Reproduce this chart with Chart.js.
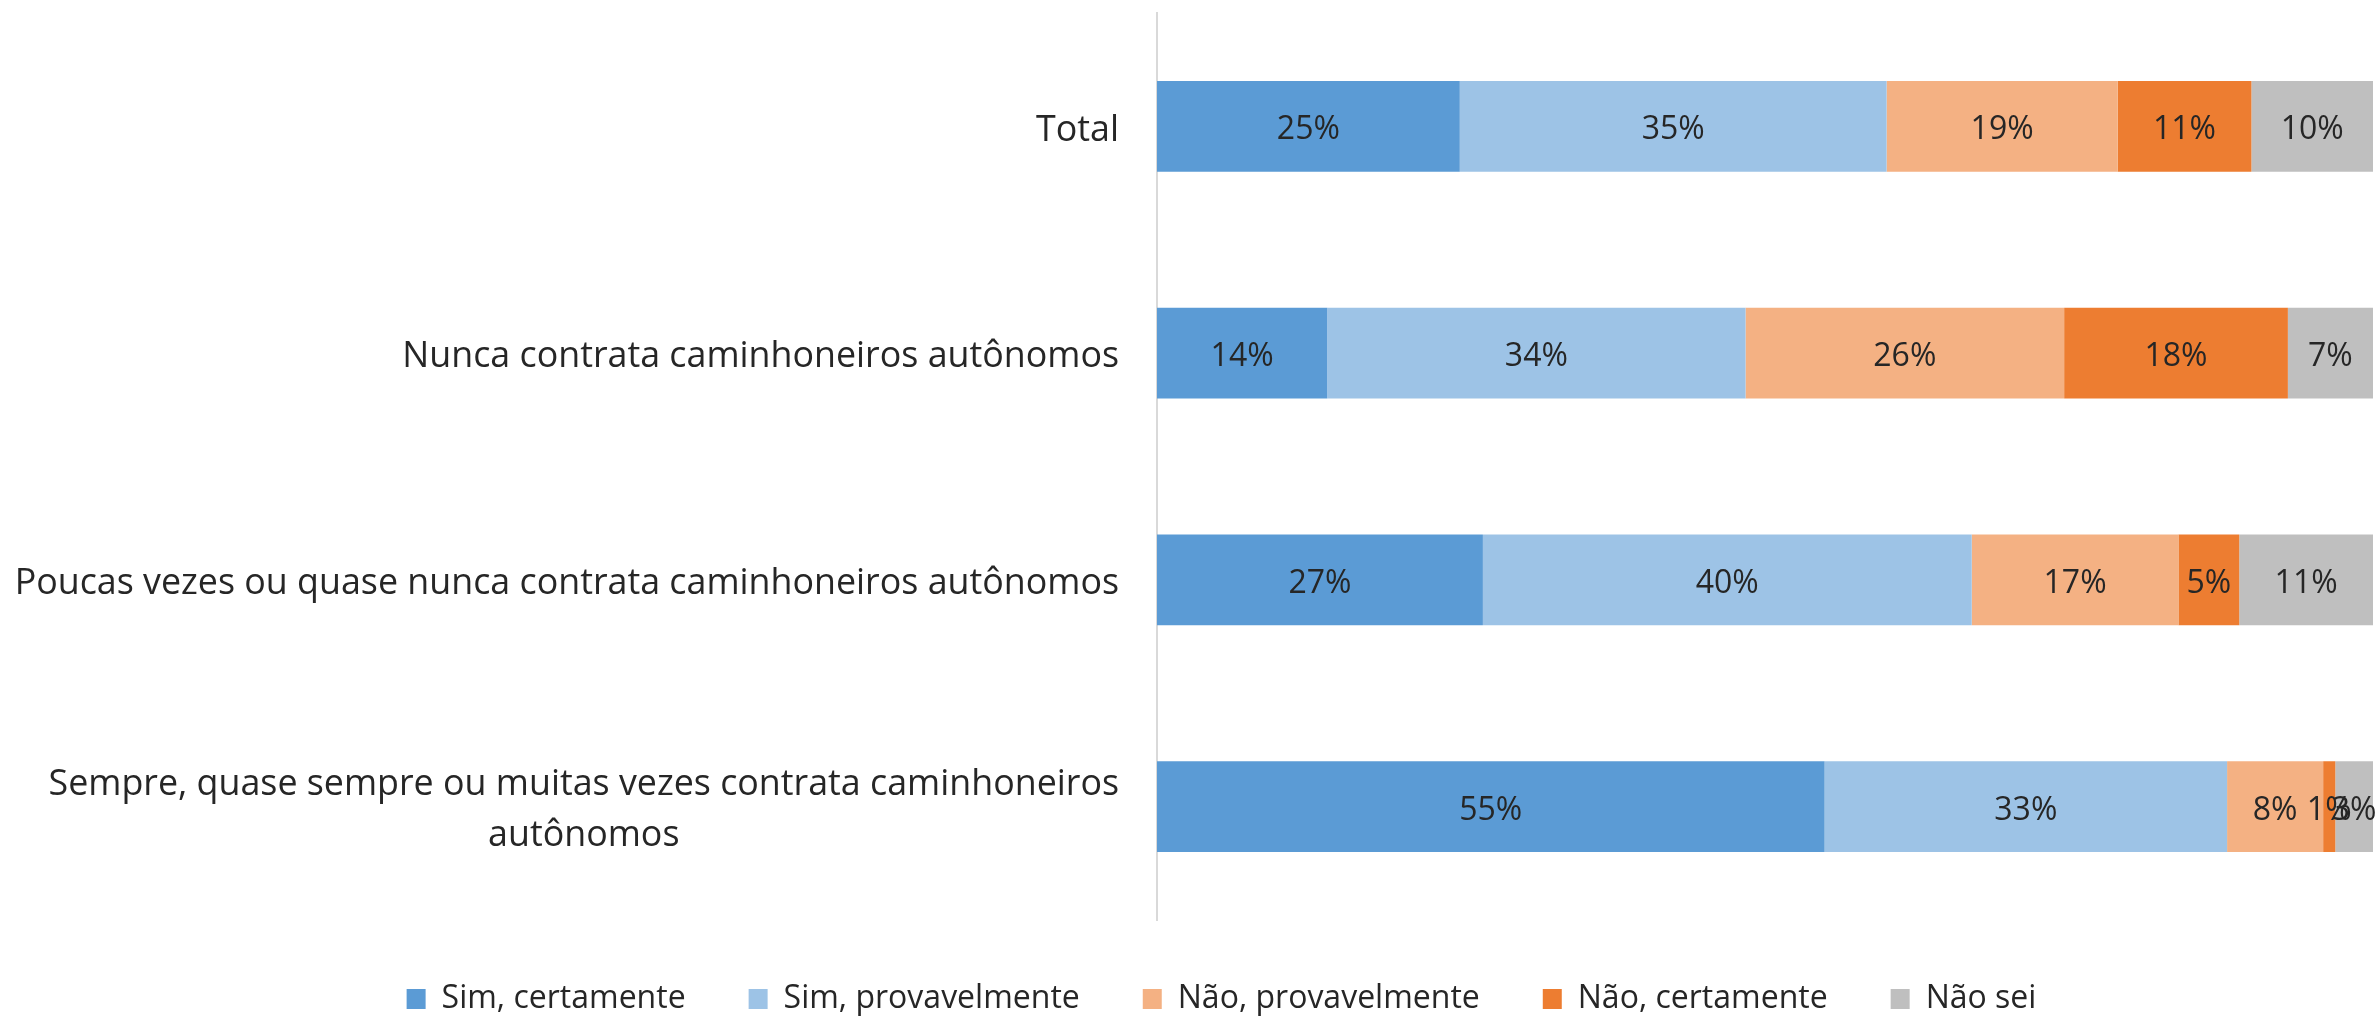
<!DOCTYPE html>
<html>
<head>
<meta charset="utf-8">
<script src="https://cdn.jsdelivr.net/npm/chart.js@4"></script>
<style>
    body { margin: 0; background: #ffffff; }
    #wrap { width: 2379px; height: 1020px; position: relative; }
</style>
</head>
<body>
<div id="wrap"><canvas id="surveyChart"></canvas></div>
<script>
var categories = [
    'Total',
    'Nunca contrata caminhoneiros autônomos',
    'Poucas vezes ou quase nunca contrata caminhoneiros autônomos',
    ['Sempre, quase sempre ou muitas vezes contrata caminhoneiros', 'autônomos']
];
var seriesNames = ['Sim, certamente', 'Sim, provavelmente', 'Não, provavelmente', 'Não, certamente', 'Não sei'];
var simCertamente = [24.9, 14.0, 26.8, 54.9];
var simProvavelmente = [35.1, 34.4, 40.2, 33.1];
var naoProvavelmente = [19.0, 26.2, 17.0, 7.9];
var naoCertamente = [11.0, 18.4, 5.0, 1.0];
var naoSei = [10.0, 7.0, 11.0, 3.1];
var seriesColors = ['#5b9bd5', '#9dc3e6', '#f4b183', '#ed7d31', '#bfbfbf'];

(function () {
    var textColor = '#262626';
    var fontFamily = '"Open Sans", sans-serif';

    // percentages written in the middle of each segment
    var segmentLabels = {
        id: 'segmentLabels',
        afterDatasetsDraw: function (chart) {
            var ctx = chart.ctx;
            ctx.save();
            ctx.font = '32px ' + fontFamily;
            ctx.fillStyle = textColor;
            ctx.textAlign = 'center';
            ctx.textBaseline = 'middle';
            chart.data.datasets.forEach(function (ds, i) {
                chart.getDatasetMeta(i).data.forEach(function (bar, j) {
                    var c = bar.getCenterPoint();
                    ctx.fillText(Math.round(ds.data[j]) + '%', c.x, c.y + 4);
                });
            });
            ctx.restore();
        }
    };

    // category labels: block right aligned, lines centred inside it
    var categoryLabels = {
        id: 'categoryLabels',
        afterDraw: function (chart) {
            var ctx = chart.ctx;
            var yScale = chart.scales.y;
            var right = chart.chartArea.left - 38;
            var lineHeight = 51;
            ctx.save();
            ctx.font = '35.8px ' + fontFamily;
            ctx.fillStyle = textColor;
            ctx.textAlign = 'center';
            ctx.textBaseline = 'middle';
            chart.data.labels.forEach(function (label, i) {
                var lines = Array.isArray(label) ? label : [label];
                var widest = Math.max.apply(null, lines.map(function (l) { return ctx.measureText(l).width; }));
                var cx = right - widest / 2;
                var y0 = yScale.getPixelForTick(i) + 4 - (lines.length - 1) * lineHeight / 2;
                lines.forEach(function (l, k) {
                    ctx.fillText(l, cx, y0 + k * lineHeight);
                });
            });
            ctx.restore();
        }
    };

    var values = [simCertamente, simProvavelmente, naoProvavelmente, naoCertamente, naoSei];
    var datasets = seriesNames.map(function (name, i) {
        return {
            label: name,
            data: values[i],
            backgroundColor: seriesColors[i],
            borderWidth: 0,
            barPercentage: 0.4,
            categoryPercentage: 1
        };
    });

    var ctx = document.getElementById('surveyChart').getContext('2d');
    var myChart = new Chart(ctx, {
        type: 'bar',
        data: { labels: categories, datasets: datasets },
        plugins: [segmentLabels, categoryLabels],
        options: {
            indexAxis: 'y',
            responsive: true,
            maintainAspectRatio: false,
            animation: false,
            layout: { padding: { top: 13, right: 6, bottom: -5, left: 70 } },
            scales: {
                x: { stacked: true, min: 0, max: 100, display: false },
                y: {
                    stacked: true,
                    grid: { display: false },
                    border: { display: true, color: '#d9d9d9', width: 2 },
                    ticks: { display: false },
                    afterFit: function (scale) { scale.width = 1087; }
                }
            },
            plugins: {
                tooltip: { enabled: false },
                legend: {
                    position: 'bottom',
                    align: 'center',
                    labels: {
                        boxWidth: 19,
                        boxHeight: 20,
                        padding: 63,
                        color: textColor,
                        font: { family: fontFamily, size: 32 }
                    }
                }
            }
        }
    });
})();
</script>
</body>
</html>
